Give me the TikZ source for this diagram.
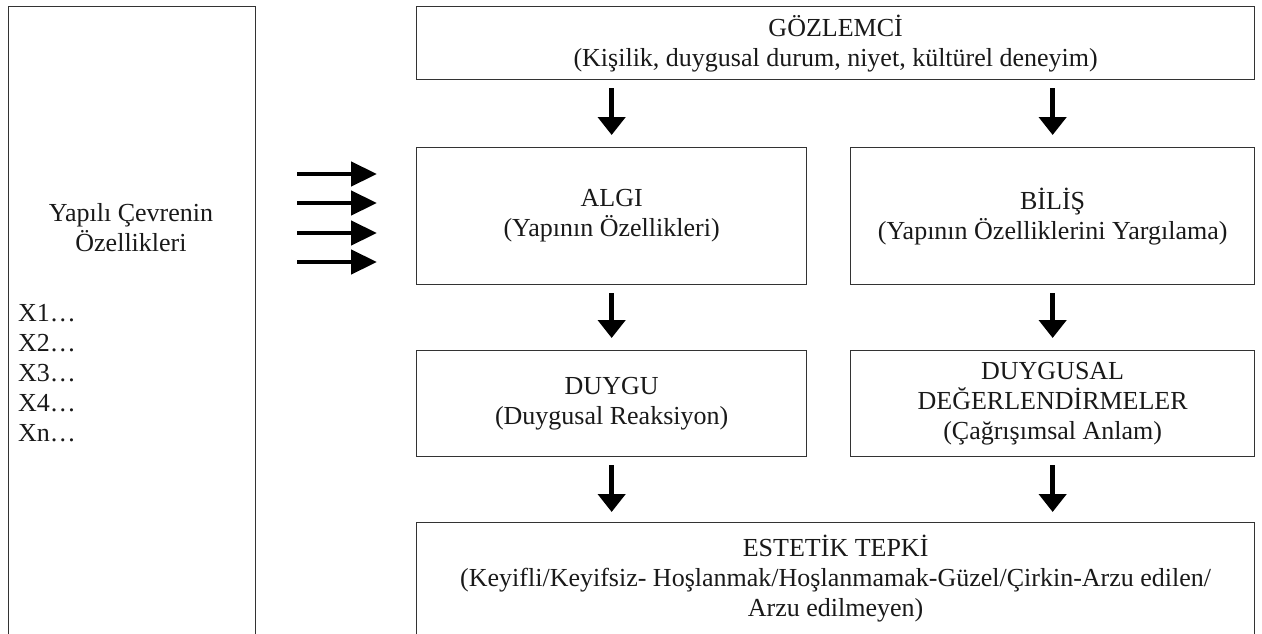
\documentclass[tikz,border=0pt]{standalone}
\usepackage{fontspec}
\setmainfont{Liberation Serif}
\usetikzlibrary{arrows.meta}
\usetikzlibrary{positioning}

\begin{document}
\begin{tikzpicture}[x=1pt, y=-1pt,
    kutu/.style={draw=black!80, line width=1.3pt, align=center, inner sep=0pt, anchor=north west},
    yazi/.style={font=\fontsize{26}{30}\selectfont, text=black!90},
    okasagi/.style={-{Triangle[width=27pt,length=18pt]}, line width=5.5pt},
    oksag/.style={-{Triangle[width=24pt,length=26pt]}, line width=4.5pt}]
    \useasboundingbox (0,0) rectangle (1262,633);
    \clip (0,0) rectangle (1262,633);

    % Draw the left box (runs off the page)
    \node[kutu, minimum width=247pt, minimum height=700pt] (cevre) at (8,6) {};
    \node[yazi, align=center] (cevrebaslik) at (131,228) {Yapılı Çevrenin\\Özellikleri};
    \foreach \t [count=\i from 0] in {X1…,X2…,X3…,X4…,Xn…}
        \node[yazi, anchor=west, inner sep=0pt] (x\i) at (18,313+30*\i) {\t};

    % Draw the four arrows into ALGI
    \foreach \y [count=\i] in {174,203,233,262} {
        \coordinate (bas\i) at (297,\y);
        \coordinate (uc\i) at (377,\y);
        \draw[oksag] (bas\i) -- (uc\i);
    }

    % Draw the boxes
    \node[kutu, yazi, minimum width=838pt, minimum height=73pt] (gozlemci) at (416,6)
        {GÖZLEMCİ\\(Kişilik, duygusal durum, niyet, kültürel deneyim)};
    \node[kutu, yazi, minimum width=390pt, minimum height=137pt] (algi) at (416,147)
        {ALGI\\(Yapının Özellikleri)};
    \node[kutu, yazi, minimum width=404pt, minimum height=137pt] (bilis) at (850,147)
        {BİLİŞ\\(Yapının Özelliklerini Yargılama)};
    \node[kutu, yazi, minimum width=390pt, minimum height=106pt] (duygu) at (416,350)
        {DUYGU\\(Duygusal Reaksiyon)};
    \node[kutu, yazi, minimum width=404pt, minimum height=106pt] (degerlendirme) at (850,350)
        {DUYGUSAL\\DEĞERLENDİRMELER\\(Çağrışımsal Anlam)};
    \node[kutu, yazi, minimum width=838pt, minimum height=112pt] (tepki) at (416,522)
        {ESTETİK TEPKİ\\(Keyifli/Keyifsiz- Hoşlanmak/Hoşlanmamak-Güzel/Çirkin-Arzu edilen/\\Arzu edilmeyen)};

    % Draw the down arrows
    \draw[okasagi, shorten <=8pt, shorten >=12pt] (gozlemci.south -| algi.north) -- (algi.north);
    \draw[okasagi, shorten <=8pt, shorten >=12pt] (gozlemci.south -| bilis.north) -- (bilis.north);
    \draw[okasagi, shorten <=8pt, shorten >=12pt] (algi.south) -- (duygu.north);
    \draw[okasagi, shorten <=8pt, shorten >=12pt] (bilis.south) -- (degerlendirme.north);
    \draw[okasagi, shorten <=8pt, shorten >=10pt] (duygu.south) -- (tepki.north -| duygu.south);
    \draw[okasagi, shorten <=8pt, shorten >=10pt] (degerlendirme.south) -- (tepki.north -| degerlendirme.south);
\end{tikzpicture}
\end{document}
